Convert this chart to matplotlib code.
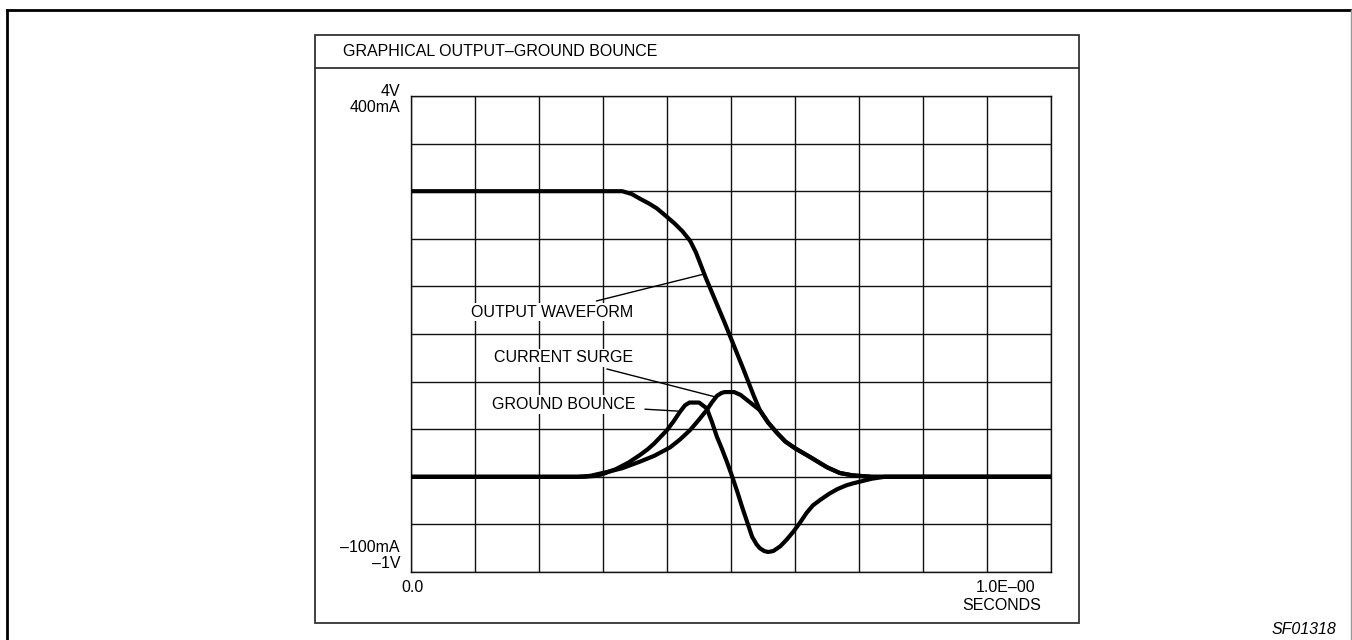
import matplotlib
matplotlib.use("Agg")
import matplotlib.pyplot as plt
from matplotlib.patches import Rectangle
from matplotlib.lines import Line2D

plt.rcParams["font.family"] = ["Liberation Sans", "DejaVu Sans"]

# time in seconds, values in volts (grid: 0.1 s x 0.5 V)
out_t = [0.0, 0.10, 0.20, 0.30, 0.33, 0.345, 0.358, 0.372, 0.384, 0.40, 0.412,
         0.424, 0.436, 0.445, 0.452, 0.46, 0.475, 0.49, 0.502, 0.52, 0.535,
         0.545, 0.558, 0.572, 0.585, 0.60, 0.623, 0.65, 0.67, 0.69, 0.72, 1.0]
out_v = [3.0, 3.0, 3.0, 3.0, 3.0, 2.97, 2.92, 2.87, 2.82, 2.73, 2.66,
         2.58, 2.48, 2.36, 2.24, 2.10, 1.86, 1.62, 1.42, 1.12, 0.86,
         0.70, 0.57, 0.46, 0.37, 0.30, 0.21, 0.10, 0.04, 0.015, 0.0, 0.0]

surge_t = [0.0, 0.26, 0.28, 0.306, 0.33, 0.358, 0.38, 0.405, 0.42, 0.436, 0.45,
           0.462, 0.47, 0.478, 0.485, 0.49, 0.505, 0.515, 0.53, 0.545, 0.558,
           0.572, 0.585, 0.60, 0.623, 0.65, 0.67, 0.69, 0.72, 1.0]
surge_v = [0.0, 0.0, 0.01, 0.05, 0.09, 0.16, 0.22, 0.31, 0.39, 0.49, 0.60,
           0.70, 0.78, 0.85, 0.88, 0.89, 0.89, 0.86, 0.78, 0.70, 0.57,
           0.46, 0.37, 0.30, 0.21, 0.10, 0.04, 0.015, 0.0, 0.0]

bounce_t = [0.0, 0.27, 0.29, 0.30, 0.32, 0.34, 0.358, 0.37, 0.38, 0.39, 0.40,
            0.41, 0.42, 0.428, 0.435, 0.45, 0.462, 0.47, 0.478, 0.486, 0.494,
            0.502, 0.51, 0.517, 0.525, 0.533, 0.54, 0.545, 0.552, 0.558,
            0.566, 0.577, 0.587, 0.597, 0.608, 0.618, 0.628, 0.64, 0.653,
            0.666, 0.68, 0.69, 0.702, 0.72, 0.74, 1.0]
bounce_v = [0.0, 0.0, 0.01, 0.03, 0.08, 0.15, 0.23, 0.29, 0.35, 0.42, 0.49,
            0.58, 0.68, 0.75, 0.78, 0.78, 0.72, 0.58, 0.42, 0.29, 0.15,
            0.0, -0.16, -0.31, -0.47, -0.63, -0.71, -0.75, -0.78, -0.79,
            -0.78, -0.73, -0.66, -0.58, -0.48, -0.38, -0.30, -0.24, -0.18,
            -0.13, -0.09, -0.07, -0.05, -0.02, 0.0, 0.0]

W, H = 1352, 640
fig = plt.figure(figsize=(W / 100, H / 100), dpi=100)


def fx(px):
    return px / W


def fy(py):
    return 1 - py / H


# outer page frame
fig.add_artist(Line2D([fx(7), fx(7)], [0, fy(10)], color="black", lw=2))
fig.add_artist(Line2D([fx(7), fx(1351)], [fy(10), fy(10)], color="black", lw=2))
fig.add_artist(Line2D([fx(1351), fx(1351)], [0, fy(10)], color="#999999", lw=1))

# inner box with title bar
fig.add_artist(Rectangle((fx(315), fy(623)), fx(1079) - fx(315), fy(35) - fy(623),
                         transform=fig.transFigure, fill=False, ec="#333333", lw=1.3))
fig.add_artist(Line2D([fx(315), fx(1079)], [fy(68), fy(68)], color="#333333", lw=1.3))
fig.text(fx(343), fy(52), "GRAPHICAL OUTPUT\u2013GROUND BOUNCE", fontsize=11.5,
         ha="left", va="center")

ax = fig.add_axes([fx(411), fy(572), fx(1051) - fx(411), fy(96) - fy(572)])
ax.set_xlim(0, 1.0)
ax.set_ylim(-1, 4)
ax.set_xticks([i / 10 for i in range(11)])
ax.set_yticks([-1 + i * 0.5 for i in range(11)])
ax.tick_params(length=0, labelbottom=False, labelleft=False)
ax.grid(True, color="#111111", lw=1)
for s in ax.spines.values():
    s.set_color("#111111")
    s.set_linewidth(1)

for t, v in [(out_t, out_v), (surge_t, surge_v), (bounce_t, bounce_v)]:
    ax.plot(t, v, color="black", lw=3, solid_joinstyle="round",
            solid_capstyle="round", zorder=3)

labels = [
    ("OUTPUT WAVEFORM", (0.458, 2.13), (0.347, 1.73)),
    ("CURRENT SURGE", (0.475, 0.84), (0.347, 1.25)),
    ("GROUND BOUNCE", (0.417, 0.69), (0.350, 0.76)),
]
for txt, xy, xyt in labels:
    ax.annotate(txt, xy=xy, xytext=xyt, ha="right", va="center", fontsize=11.5,
                bbox=dict(boxstyle="square,pad=0.1", fc="white", ec="none"),
                arrowprops=dict(arrowstyle="-", lw=1, color="black",
                                shrinkA=6, shrinkB=0),
                zorder=4)

# axis annotations
fig.text(fx(400), fy(91), "4V", fontsize=11.5, ha="right", va="center")
fig.text(fx(400), fy(108), "400mA", fontsize=11.5, ha="right", va="center")
fig.text(fx(400), fy(547), "\u2013100mA", fontsize=11.5, ha="right", va="center")
fig.text(fx(400), fy(564), "\u20131V", fontsize=11.5, ha="right", va="center")
fig.text(fx(413), fy(587), "0.0", fontsize=11.5, ha="center", va="center")
fig.text(fx(1006), fy(588), "1.0E\u201300", fontsize=11.5, ha="center", va="center")
fig.text(fx(1002), fy(605), "SECONDS", fontsize=11.5, ha="center", va="center")
fig.text(fx(1336), fy(630), "SF01318", fontsize=11.5, ha="right", va="center",
         style="italic")

fig.savefig("out.png", dpi=100)
